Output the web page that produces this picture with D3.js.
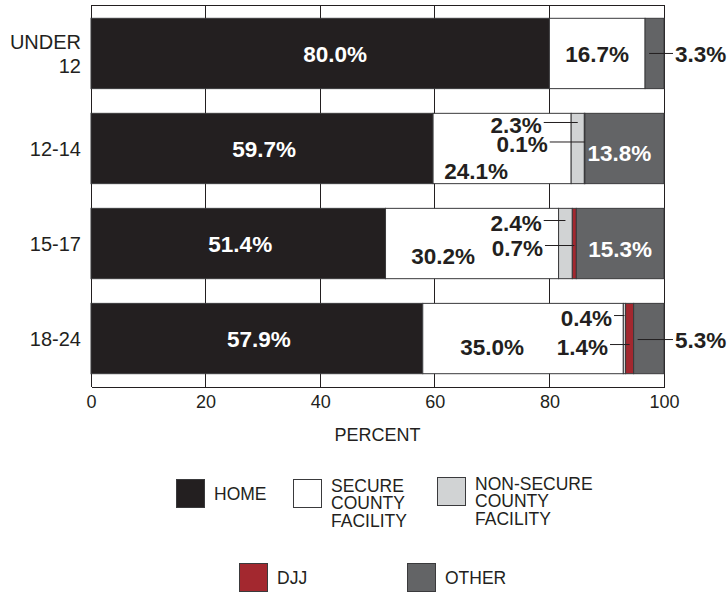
<!DOCTYPE html>
<html>
<head>
<meta charset="utf-8">
<script src="https://cdn.jsdelivr.net/npm/d3@7"></script>
<style>
  html, body { margin: 0; padding: 0; background: #fff; }
  svg { display: block; font-family: "Liberation Sans", Arial, sans-serif; }
</style>
</head>
<body>
<svg id="chart" width="727" height="592"></svg>
<script>
// Placement by age group, percent of youth
const ageGroups = ["UNDER 12", "12-14", "15-17", "18-24"];
const home      = [80.0, 59.7, 51.4, 57.9];
const secure    = [16.7, 24.1, 30.2, 35.0];
const nonSecure = [0.0, 2.3, 2.4, 0.4];
const djj       = [0.0, 0.1, 0.7, 1.4];
const other     = [3.3, 13.8, 15.3, 5.3];
const xTicks    = [0, 20, 40, 60, 80, 100];

const seriesKeys   = ["home", "secure", "nonSecure", "djj", "other"];
const seriesLabels = [["HOME"], ["SECURE", "COUNTY", "FACILITY"], ["NON-SECURE", "COUNTY", "FACILITY"], ["DJJ"], ["OTHER"]];
const seriesColors = ["#231f20", "#ffffff", "#d1d3d4", "#a3282f", "#636466"];

const rows = ageGroups.map((g, i) => ({
  group: g, home: home[i], secure: secure[i], nonSecure: nonSecure[i], djj: djj[i], other: other[i]
}));

// Where each value label sits: "in" = inside its segment (px nudge from centre),
// "left" = text ending at tx (percent units) with a leader to the segment,
// "right" = text right of the plot with a leader from the segment.
const labelPlacement = {
  "UNDER 12": { home: { mode: "in", dx: 15 }, secure: { mode: "in" }, other: { mode: "right", dy: 0 } },
  "12-14": { home: { mode: "in", dx: 2 }, secure: { mode: "in", dx: -26, dy: 22 },
             nonSecure: { mode: "left", tx: 78.66, dy: -24 }, djj: { mode: "left", tx: 79.71, dy: -4.5 },
             other: { mode: "in", dx: -5, dy: 4.5 } },
  "15-17": { home: { mode: "in", dx: 2 }, secure: { mode: "in", dx: -29, dy: 12.5 },
             nonSecure: { mode: "left", tx: 78.66, dy: -21 }, djj: { mode: "left", tx: 78.88, dy: 4 },
             other: { mode: "in", dx: 0, dy: 5.5 } },
  "18-24": { home: { mode: "in", dx: 2 }, secure: { mode: "in", dx: -31, dy: 8.5 },
             nonSecure: { mode: "left", tx: 90.93, dy: -21 }, djj: { mode: "left", tx: 90.23, dy: 8 },
             other: { mode: "right", dy: 1 } }
};

const svg = d3.select("#chart");
const ink = "#231f20";
const plot = { left: 91, right: 664, top: 5, bottom: 387 };

const x = d3.scaleLinear().domain([0, 100]).range([plot.left, plot.right]);
const y = d3.scaleBand().domain(ageGroups).range([plot.top, plot.bottom])
  .paddingInner(0.26).paddingOuter(0.14);

// Frame and vertical grid
const g = svg.append("g");
g.append("g").selectAll("line").data(xTicks).join("line")
  .attr("x1", d => x(d)).attr("x2", d => x(d))
  .attr("y1", plot.top).attr("y2", plot.bottom)
  .attr("stroke", ink).attr("stroke-width", 1).attr("shape-rendering", "crispEdges");
g.append("line").attr("x1", plot.left).attr("x2", plot.right)
  .attr("y1", plot.top).attr("y2", plot.top)
  .attr("stroke", ink).attr("shape-rendering", "crispEdges");

// Bottom axis with labels only
const xAxis = d3.axisBottom(x).tickValues(xTicks).tickSize(0).tickPadding(8).tickFormat(d3.format("d"));
const axG = svg.append("g").attr("transform", `translate(0,${plot.bottom})`).call(xAxis);
axG.select(".domain").attr("stroke", ink).attr("shape-rendering", "crispEdges");
axG.selectAll("text").attr("font-size", 18).attr("fill", ink)
  .attr("font-family", "'Liberation Sans', Arial, sans-serif");

svg.append("text").attr("x", (plot.left + plot.right) / 2).attr("y", 441)
  .attr("text-anchor", "middle").attr("font-size", 18).attr("fill", ink).text("PERCENT");

// Category labels
const yAxis = svg.append("g");
ageGroups.forEach(gName => {
  const cy = y(gName) + y.bandwidth() / 2;
  const parts = gName === "UNDER 12" ? ["UNDER", "12"] : [gName];
  const t = yAxis.append("text").attr("text-anchor", "end").attr("font-size", 20).attr("fill", ink);
  parts.forEach((p, i) => {
    t.append("tspan").attr("x", 81)
      .attr("y", cy + (i - (parts.length - 1) / 2) * 24)
      .attr("dy", "0.36em").text(p);
  });
});

// Stacked bars
const stack = d3.stack().keys(seriesKeys);
const stacked = stack(rows);

const layers = svg.append("g").selectAll("g").data(stacked).join("g")
  .attr("fill", (d, i) => seriesColors[i]);
layers.selectAll("rect").data(d => d.map(s => ({ s, key: d.key }))).join("rect")
  .filter(d => d.s[1] - d.s[0] > 0)
  .attr("x", d => x(d.s[0])).attr("width", d => x(d.s[1]) - x(d.s[0]))
  .attr("y", d => y(d.s.data.group)).attr("height", y.bandwidth())
  .attr("stroke", "#3a3a3c").attr("stroke-width", 1);

// Value labels
const labels = svg.append("g").attr("font-weight", "bold").attr("font-size", 22.5);
stacked.forEach((layer, si) => {
  layer.forEach(s => {
    const grp = s.data.group;
    const spot = labelPlacement[grp][layer.key];
    if (!spot) return;
    const val = s[1] - s[0];
    const txt = d3.format(".1f")(val) + "%";
    const cy = y(grp) + y.bandwidth() / 2;
    const cx = x((s[0] + s[1]) / 2);
    const fill = (layer.key === "home" || layer.key === "other") && spot.mode === "in" ? "#ffffff" : ink;
    if (spot.mode === "in") {
      labels.append("text").attr("x", cx + (spot.dx || 0)).attr("y", cy + (spot.dy || 0))
        .attr("dy", "0.36em").attr("text-anchor", "middle").attr("fill", fill).text(txt);
    } else if (spot.mode === "left") {
      const tx = x(spot.tx);
      labels.append("text").attr("x", tx).attr("y", cy + spot.dy)
        .attr("dy", "0.36em").attr("text-anchor", "end").attr("fill", ink).text(txt);
      labels.append("line").attr("x1", tx + 2).attr("x2", cx)
        .attr("y1", cy + spot.dy - 2).attr("y2", cy + spot.dy - 2)
        .attr("stroke", ink).attr("stroke-width", 1);
    } else if (spot.mode === "right") {
      labels.append("line").attr("x1", x(s[0]) + 4).attr("x2", plot.right + 9)
        .attr("y1", cy + spot.dy).attr("y2", cy + spot.dy)
        .attr("stroke", ink).attr("stroke-width", 1);
      labels.append("text").attr("x", plot.right + 11).attr("y", cy + spot.dy)
        .attr("dy", "0.36em").attr("text-anchor", "start").attr("fill", ink).text(txt);
    }
  });
});

// Legend
const legendSpots = [
  { x: 176, y: 479 }, { x: 293, y: 479 }, { x: 437, y: 477 },
  { x: 239, y: 563 }, { x: 407, y: 563 }
];
const legend = svg.append("g");
seriesKeys.forEach((k, i) => {
  const p = legendSpots[i];
  legend.append("rect").attr("x", p.x + 0.5).attr("y", p.y + 0.5).attr("width", 28).attr("height", 28)
    .attr("fill", seriesColors[i]).attr("stroke", "#3a3a3c").attr("stroke-width", 1);
  const lines = seriesLabels[i];
  const t = legend.append("text").attr("font-size", 17.5).attr("fill", ink);
  const midY = p.y + 14 + (lines.length > 1 ? 10 : 1);
  lines.forEach((ln, j) => {
    t.append("tspan").attr("x", p.x + 38)
      .attr("y", midY + (j - (lines.length - 1) / 2) * 17.5)
      .attr("dy", "0.36em").text(ln);
  });
});
</script>
</body>
</html>
